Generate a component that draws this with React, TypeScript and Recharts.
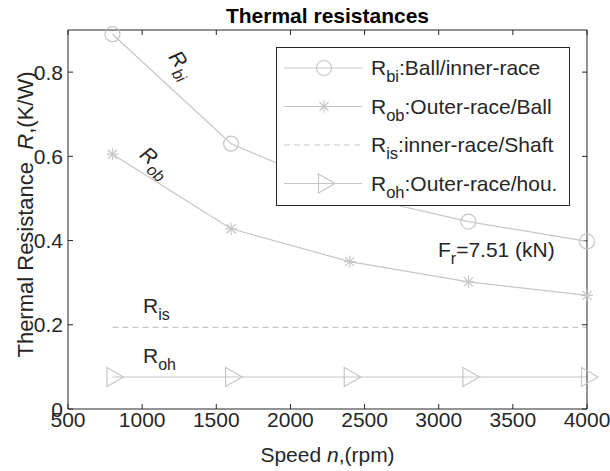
import React from "react";
import { LineChart, Line, XAxis, YAxis, ReferenceDot, ReferenceLine } from "recharts";

// speed n (rpm) and thermal resistances R (K/W) at Fr = 7.51 kN
const speeds = [800, 1600, 2400, 3200, 4000];
const rBi = [0.89, 0.63, 0.51, 0.445, 0.398];
const rOb = [0.605, 0.428, 0.35, 0.302, 0.27];
const rIs = [0.194, 0.194, 0.194, 0.194, 0.194];
const rOh = [0.076, 0.076, 0.076, 0.076, 0.076];

const xTicks = [500, 1000, 1500, 2000, 2500, 3000, 3500, 4000];
const yTicks = [0, 0.2, 0.4, 0.6, 0.8];

const legendItems = [
  { base: "R", sub: "bi", text: ":Ball/inner-race", marker: "circle" },
  { base: "R", sub: "ob", text: ":Outer-race/Ball", marker: "star" },
  { base: "R", sub: "is", text: ":inner-race/Shaft", marker: "none" },
  { base: "R", sub: "oh", text: ":Outer-race/hou.", marker: "triangle" },
];

// text notes inside the axes, anchored in data units
const notes = [
  { x: 1174, y: 0.836, base: "R", sub: "bi", rest: "", angle: 55, italic: true },
  { x: 975, y: 0.6, base: "R", sub: "ob", rest: "", angle: 40, italic: true },
  { x: 1006, y: 0.229, base: "R", sub: "is", rest: "", angle: 0, italic: false },
  { x: 1006, y: 0.11, base: "R", sub: "oh", rest: "", angle: 0, italic: false },
  { x: 2995, y: 0.36, base: "F", sub: "r", rest: "=7.51 (kN)", angle: 0, italic: false },
];

const data = speeds.map((s, i) => ({
  speed: s,
  rbi: rBi[i],
  rob: rOb[i],
  ris: rIs[i],
  roh: rOh[i],
}));

const FONT = "'Liberation Sans', Arial, Helvetica, sans-serif";
const LINE = "#c6c6c6";
const AXIS = "#262626";
const TEXT = "#262626";

const X_DOM = [500, 4000];
const Y_DOM = [0, 0.9];
const PLOT_W = 519;
const PLOT_H = 379;
const TICK = 5;
// inward tick length expressed in data units
const xTickLen = ((X_DOM[1] - X_DOM[0]) * TICK) / PLOT_W;
const yTickLen = ((Y_DOM[1] - Y_DOM[0]) * TICK) / PLOT_H;

const circleMark = (cx: number, cy: number, key?: string) => (
  <circle key={key} cx={cx} cy={cy} r={7.5} fill="none" stroke={LINE} strokeWidth={1.2} />
);

const starMark = (cx: number, cy: number, key?: string) => (
  <g key={key} stroke={LINE} strokeWidth={1.2}>
    <line x1={cx - 6} x2={cx + 6} y1={cy} y2={cy} />
    <line x1={cx} x2={cx} y1={cy - 6} y2={cy + 6} />
    <line x1={cx - 4.5} x2={cx + 4.5} y1={cy - 4.5} y2={cy + 4.5} />
    <line x1={cx - 4.5} x2={cx + 4.5} y1={cy + 4.5} y2={cy - 4.5} />
  </g>
);

const triMark = (cx: number, cy: number, key?: string) => (
  <polygon
    key={key}
    points={`${cx - 5.5},${cy - 9.5} ${cx - 5.5},${cy + 9.5} ${cx + 11},${cy}`}
    fill="none"
    stroke={LINE}
    strokeWidth={1.2}
  />
);

const marks: Record<string, (cx: number, cy: number, key?: string) => React.ReactNode> = {
  circle: circleMark,
  star: starMark,
  triangle: triMark,
};

const dotOf = (kind: string, id: string) => (p: any) => marks[kind](p.cx, p.cy, `${id}-${p.index}`);

const BottomTick = ({ x, y, payload }: any) => (
  <text x={x} y={y + 18} textAnchor="middle" fontSize={21} fill={TEXT} fontFamily={FONT}>
    {payload.value}
  </text>
);

const LeftTick = ({ x, y, payload }: any) => (
  <text x={x - 5} y={y + 7.5} textAnchor="end" fontSize={21} fill={TEXT} fontFamily={FONT}>
    {payload.value}
  </text>
);

const noteShape = (n: (typeof notes)[number]) => (p: any) => (
  <text
    x={p.cx}
    y={p.cy}
    transform={n.angle ? `rotate(${n.angle} ${p.cx} ${p.cy})` : undefined}
    fontSize={21}
    fill={TEXT}
    fontFamily={FONT}
    fontStyle={n.italic ? "italic" : "normal"}
  >
    {n.base}
    <tspan dy={7} fontSize={16}>
      {n.sub}
    </tspan>
    {n.rest ? <tspan dy={-7}>{n.rest}</tspan> : null}
  </text>
);

function LegendBox() {
  return (
    <svg
      width={294}
      height={159}
      style={{ position: "absolute", left: 276, top: 47 }}
    >
      <rect x={0.5} y={0.5} width={293} height={158} fill="#fff" stroke={AXIS} strokeWidth={1} />
      {legendItems.map((it, i) => {
        const cy = 21 + i * 38.5;
        return (
          <g key={it.sub}>
            <line
              x1={8}
              x2={86}
              y1={cy}
              y2={cy}
              stroke={LINE}
              strokeWidth={1.2}
              strokeDasharray={it.marker === "none" ? "6 4" : undefined}
            />
            {it.marker !== "none" ? marks[it.marker](48, cy) : null}
            <text x={95} y={cy + 7} fontSize={21} fill={TEXT} fontFamily={FONT}>
              {it.base}
              <tspan dy={7} fontSize={16.5}>
                {it.sub}
              </tspan>
              <tspan dy={-7}>{it.text}</tspan>
            </text>
          </g>
        );
      })}
    </svg>
  );
}

export default function App() {
  return (
    <div style={{ position: "relative", width: 610, height: 471, background: "#fff" }}>
      <style>{"body{margin:0}"}</style>
      <LineChart
        width={610}
        height={471}
        data={data}
        margin={{ top: 29, right: 22, bottom: 2, left: 8 }}
      >
        <XAxis
          dataKey="speed"
          type="number"
          domain={X_DOM}
          ticks={xTicks}
          interval={0}
          height={60}
          tickSize={0}
          tickMargin={0}
          tickLine={false}
          axisLine={{ stroke: AXIS }}
          tick={<BottomTick />}
          label={{
            content: (p: any) => (
              <text
                x={p.viewBox.x + p.viewBox.width / 2}
                y={p.viewBox.y + 53}
                textAnchor="middle"
                fontSize={21}
                fill={TEXT}
                fontFamily={FONT}
              >
                Speed <tspan fontStyle="italic">n</tspan>,(rpm)
              </text>
            ),
          }}
        />
        <XAxis
          xAxisId="top"
          dataKey="speed"
          type="number"
          orientation="top"
          domain={X_DOM}
          ticks={xTicks}
          interval={0}
          height={1}
          tickLine={false}
          axisLine={{ stroke: AXIS }}
          tick={false}
          label={{
            content: (p: any) => (
              <text
                x={p.viewBox.x + p.viewBox.width / 2}
                y={p.viewBox.y - 6}
                textAnchor="middle"
                fontSize={21}
                fontWeight="bold"
                fill="#000"
                fontFamily={FONT}
              >
                Thermal resistances
              </text>
            ),
          }}
        />
        <YAxis
          type="number"
          domain={Y_DOM}
          ticks={yTicks}
          interval={0}
          width={60}
          tickSize={0}
          tickMargin={0}
          tickLine={false}
          axisLine={{ stroke: AXIS }}
          tick={<LeftTick />}
          label={{
            content: (p: any) => {
              const cx = 33;
              const cy = p.viewBox.y + p.viewBox.height / 2 - 5;
              return (
                <text
                  x={cx}
                  y={cy}
                  transform={`rotate(-90 ${cx} ${cy})`}
                  textAnchor="middle"
                  fontSize={22}
                  fill={TEXT}
                  fontFamily={FONT}
                >
                  Thermal Resistance{"\u00a0 "}
                  <tspan fontStyle="italic">R</tspan>,(K/W)
                </text>
              );
            },
          }}
        />
        <YAxis
          yAxisId="right"
          type="number"
          orientation="right"
          domain={Y_DOM}
          ticks={yTicks}
          interval={0}
          width={1}
          tickLine={false}
          axisLine={{ stroke: AXIS }}
          tick={false}
        />
        {/* inward tick marks on all four sides */}
        {xTicks.map((t) => (
          <ReferenceLine
            key={`xb-${t}`}
            segment={[{ x: t, y: Y_DOM[0] }, { x: t, y: Y_DOM[0] + yTickLen }]}
            stroke={AXIS}
            ifOverflow="visible"
          />
        ))}
        {xTicks.map((t) => (
          <ReferenceLine
            key={`xt-${t}`}
            segment={[{ x: t, y: Y_DOM[1] }, { x: t, y: Y_DOM[1] - yTickLen }]}
            stroke={AXIS}
            ifOverflow="visible"
          />
        ))}
        {yTicks.map((t) => (
          <ReferenceLine
            key={`yl-${t}`}
            segment={[{ x: X_DOM[0], y: t }, { x: X_DOM[0] + xTickLen, y: t }]}
            stroke={AXIS}
            ifOverflow="visible"
          />
        ))}
        {yTicks.map((t) => (
          <ReferenceLine
            key={`yr-${t}`}
            segment={[{ x: X_DOM[1], y: t }, { x: X_DOM[1] - xTickLen, y: t }]}
            stroke={AXIS}
            ifOverflow="visible"
          />
        ))}
        <Line
          dataKey="rbi"
          type="linear"
          stroke={LINE}
          strokeWidth={1.2}
          dot={dotOf("circle", "bi")}
          activeDot={false}
          isAnimationActive={false}
        />
        <Line
          dataKey="rob"
          type="linear"
          stroke={LINE}
          strokeWidth={1.2}
          dot={dotOf("star", "ob")}
          activeDot={false}
          isAnimationActive={false}
        />
        <Line
          dataKey="ris"
          type="linear"
          stroke={LINE}
          strokeWidth={1.2}
          strokeDasharray="6 4"
          dot={false}
          activeDot={false}
          isAnimationActive={false}
        />
        <Line
          dataKey="roh"
          type="linear"
          stroke={LINE}
          strokeWidth={1.2}
          dot={dotOf("triangle", "oh")}
          activeDot={false}
          isAnimationActive={false}
        />
        {notes.map((n) => (
          <ReferenceDot
            key={n.base + n.sub}
            x={n.x}
            y={n.y}
            r={0}
            ifOverflow="visible"
            shape={noteShape(n)}
          />
        ))}
      </LineChart>
      <LegendBox />
    </div>
  );
}
